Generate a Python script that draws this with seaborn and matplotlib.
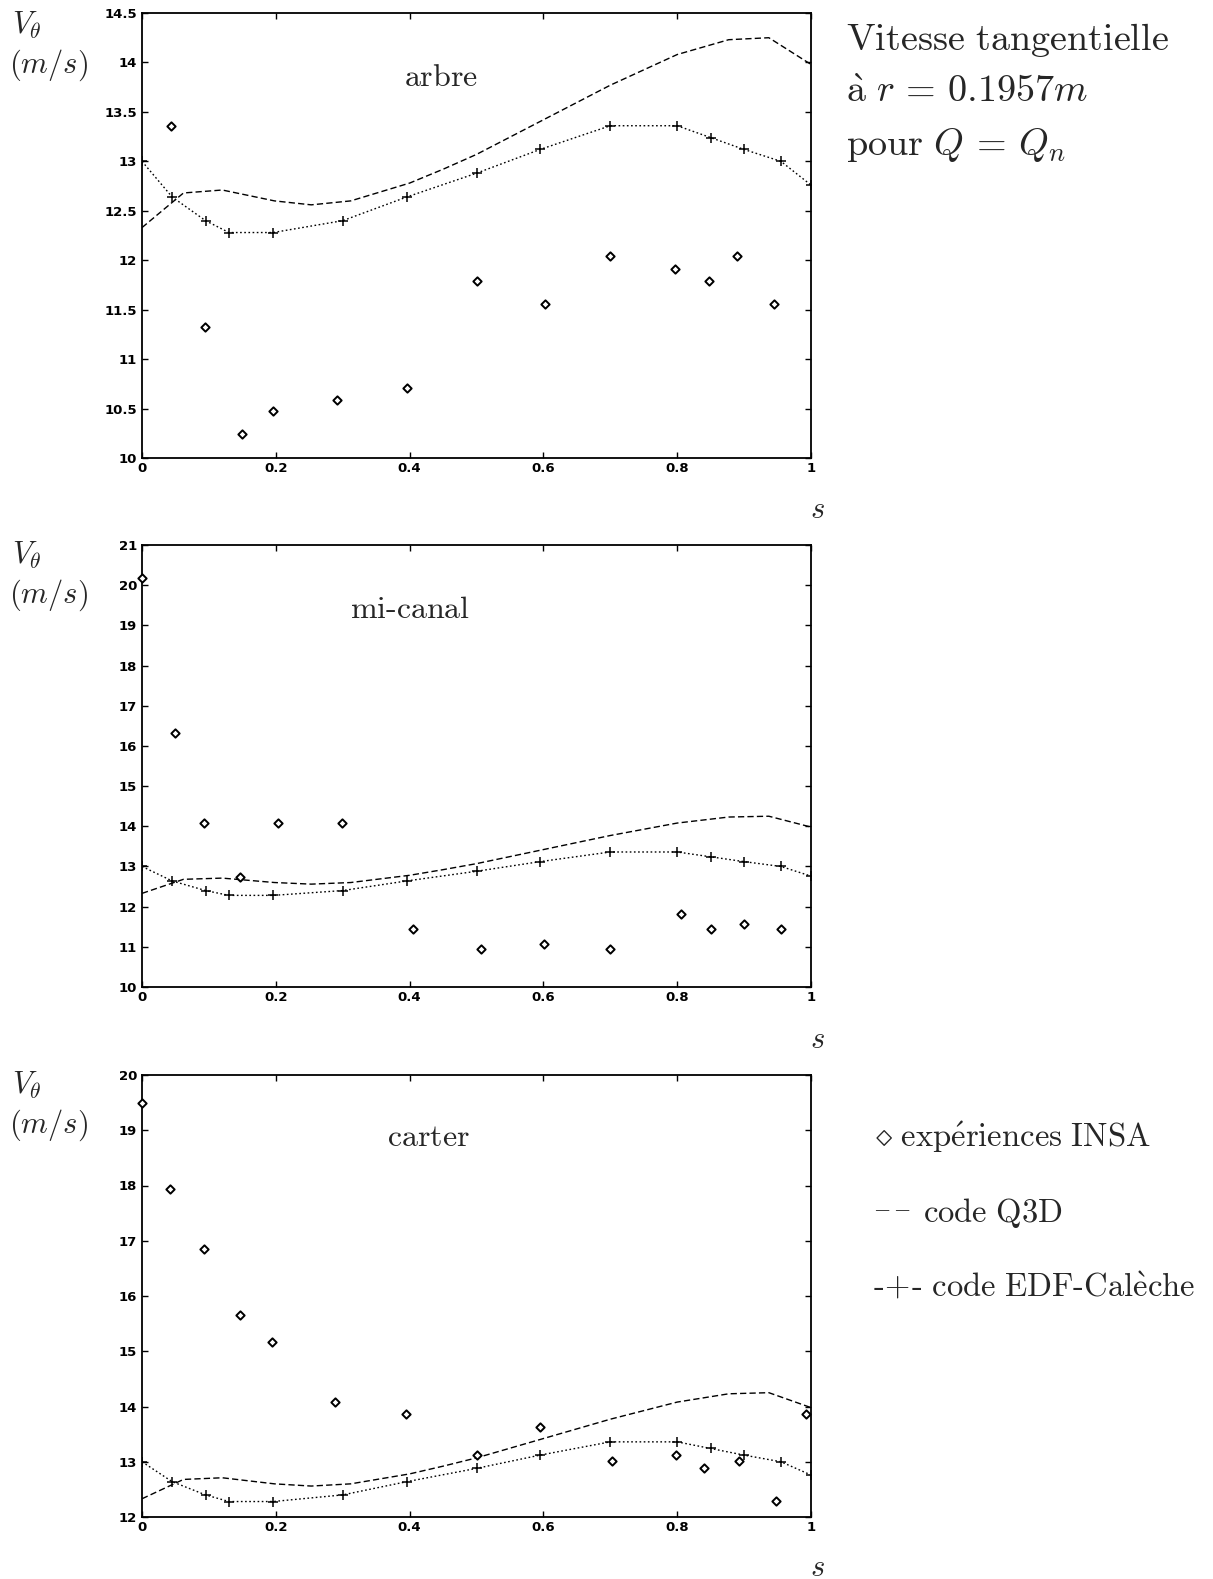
import matplotlib
matplotlib.use("Agg")
import matplotlib.pyplot as plt
import seaborn as sns
import pandas as pd
from matplotlib.ticker import MultipleLocator, FormatStrFormatter

# ---------------- data ----------------
s_q3d = [0.0, 0.062, 0.12, 0.198, 0.253, 0.312, 0.40, 0.45, 0.5, 0.6, 0.7, 0.8, 0.877, 0.937, 1.0]
v_q3d = [12.33, 12.68, 12.71, 12.60, 12.56, 12.60, 12.78, 12.92, 13.07, 13.42, 13.77, 14.08, 14.23, 14.25, 13.98]

s_cal = [0.0, 0.045, 0.095, 0.13, 0.196, 0.30, 0.396, 0.5, 0.595, 0.70, 0.80, 0.85, 0.90, 0.955, 1.0]
v_cal = [13.0, 12.64, 12.40, 12.28, 12.28, 12.40, 12.64, 12.88, 13.12, 13.36, 13.36, 13.24, 13.12, 13.0, 12.76]

s_arbre = [0.043, 0.094, 0.149, 0.196, 0.291, 0.396, 0.5, 0.602, 0.70, 0.796, 0.847, 0.89, 0.945]
v_arbre = [13.36, 11.32, 10.24, 10.48, 10.59, 10.71, 11.79, 11.56, 12.04, 11.91, 11.79, 12.04, 11.56]

s_mi = [0.0, 0.05, 0.093, 0.147, 0.203, 0.299, 0.405, 0.507, 0.601, 0.70, 0.806, 0.851, 0.90, 0.955]
v_mi = [20.19, 16.33, 14.07, 12.74, 14.07, 14.07, 11.44, 10.95, 11.08, 10.95, 11.81, 11.44, 11.56, 11.44]

s_carter = [0.0, 0.042, 0.093, 0.147, 0.195, 0.289, 0.395, 0.5, 0.595, 0.702, 0.798, 0.84, 0.893, 0.948, 0.993]
v_carter = [19.49, 17.93, 16.85, 15.65, 15.17, 14.09, 13.86, 13.13, 13.62, 13.01, 13.13, 12.89, 13.01, 12.29, 13.86]

panel_names = [r"arbre", r"mi\text{-}canal", r"carter"]
y_limits = [(10, 14.5, 0.5), (10, 21, 1), (12, 20, 1)]
x_ticks_step = 0.2

# ---------------- style ----------------
sns.set_theme(style="ticks")
plt.rcParams.update({
    "font.family": ["DejaVu Sans"],
    "font.weight": "bold",
    "mathtext.fontset": "cm",
    "axes.edgecolor": "black",
    "axes.linewidth": 1.3,
    "xtick.color": "black",
    "ytick.color": "black",
    "xtick.direction": "in",
    "ytick.direction": "in",
    "xtick.top": True,
    "ytick.right": True,
    "xtick.major.size": 4.0,
    "ytick.major.size": 4.5,
    "xtick.major.width": 1.0,
    "ytick.major.width": 1.0,
    "xtick.labelsize": 9.5,
    "ytick.labelsize": 9.5,
    "xtick.major.pad": 3,
    "ytick.major.pad": 3.5,
})

W, H = 1213, 1579
fig = plt.figure(figsize=(W / 100, H / 100), dpi=100)
fig.patch.set_facecolor("white")


def fx(x):
    return x / W


def fy(y):
    return 1 - y / H


axes_px = [(142, 13, 811, 458), (142, 545, 811, 987), (142, 1075, 811, 1517)]
exp_data = [(s_arbre, v_arbre), (s_mi, v_mi), (s_carter, v_carter)]
name_pos = [(441, 78), (410, 609), (428, 1137)]
vlabel_y = [0, 530, 1060]
s_label_y = [510, 1039, 1567]

for i, (l, t, r, b) in enumerate(axes_px):
    ax = fig.add_axes([fx(l), fy(b), (r - l) / W, (b - t) / H])
    ax.set_facecolor("white")
    sns.lineplot(x=s_q3d, y=v_q3d, ax=ax, color="black", lw=1.0,
                 linestyle=(0, (4.5, 2.3)), sort=False)
    sns.lineplot(x=s_cal, y=v_cal, ax=ax, color="black", lw=1.0,
                 linestyle=(0, (1.2, 1.8)), marker="+", markersize=7,
                 markeredgewidth=1.1, markeredgecolor="black", sort=False)
    sx, sv = exp_data[i]
    sns.scatterplot(x=sx, y=sv, ax=ax, marker="D", s=18, facecolor="white",
                    edgecolor="black", linewidth=1.4, zorder=5, clip_on=False)
    lo, hi, st = y_limits[i]
    ax.set_xlim(0, 1)
    ax.set_ylim(lo, hi)
    ax.xaxis.set_major_locator(MultipleLocator(x_ticks_step))
    ax.yaxis.set_major_locator(MultipleLocator(st))
    ax.xaxis.set_major_formatter(FormatStrFormatter("%g"))
    ax.yaxis.set_major_formatter(FormatStrFormatter("%g"))
    ax.set_xlabel("")
    ax.set_ylabel("")
    for sp in ax.spines.values():
        sp.set_visible(True)
        sp.set_color("black")

    nx, ny = name_pos[i]
    fig.text(fx(nx), fy(ny), r"$\mathrm{" + panel_names[i] + "}$",
             fontsize=23, ha="center", va="center")
    oy = vlabel_y[i]
    fig.text(fx(12), fy(oy + 25), r"$V_\theta$", fontsize=22, ha="left", va="center")
    fig.text(fx(9), fy(oy + 65), r"$(m/s)$", fontsize=22, ha="left", va="center")
    fig.text(fx(817), fy(s_label_y[i]), r"$s$", fontsize=22, ha="center", va="center")

# title block
fig.text(fx(846), fy(50), r"$\mathrm{Vitesse\ tangentielle}$", fontsize=27.5, ha="left", va="baseline")
fig.text(fx(846), fy(102), r"$\mathrm{\grave{a}}\ r\/=\/0.1957m$", fontsize=27.5, ha="left", va="baseline")
fig.text(fx(846), fy(155), r"$\mathrm{pour}\ Q\/=\/Q_n$", fontsize=27.5, ha="left", va="baseline")

# legend block
fig.text(fx(875), fy(1147), r"$\diamond\ \mathrm{exp\acute{e}riences\ INSA}$", fontsize=23.5, ha="left", va="baseline")
fig.text(fx(873), fy(1214), r"$-$", fontsize=16, ha="left", va="baseline")
fig.text(fx(893), fy(1214), r"$-$", fontsize=16, ha="left", va="baseline")
fig.text(fx(923), fy(1222), r"$\mathrm{code\ Q3D}$", fontsize=23.5, ha="left", va="baseline")
fig.text(fx(873), fy(1297), r"$\mathrm{\text{-}\!+\!\text{-}\ code\ EDF\text{-}Cal\grave{e}che}$", fontsize=23.5, ha="left", va="baseline")

fig.savefig("out.png", dpi=100, facecolor="white")
